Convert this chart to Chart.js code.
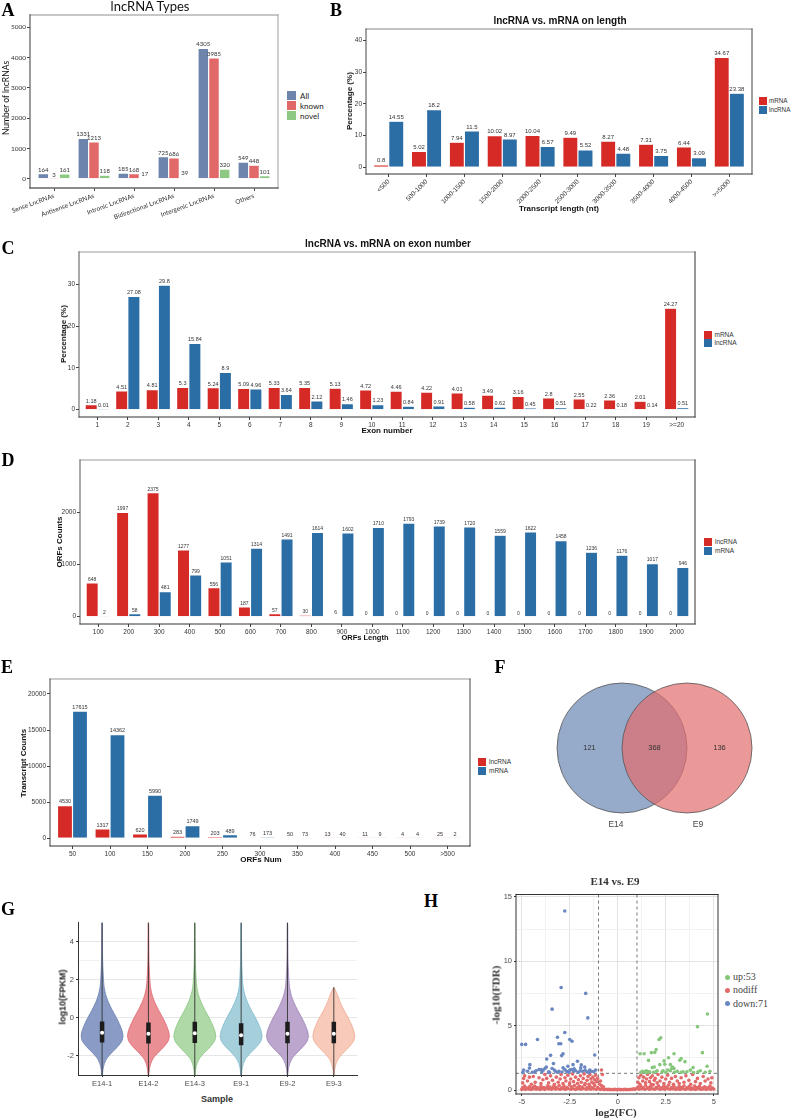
<!DOCTYPE html>
<html>
<head>
<meta charset="utf-8">
<script src="https://cdn.jsdelivr.net/npm/chart.js@4.4.1/dist/chart.umd.min.js"></script>
<style>
  body { margin: 0; background: #fff; }
  #page { position: relative; width: 791px; height: 1118px; overflow: hidden; }
  .box { position: absolute; }
  .txt { position: absolute; white-space: nowrap; line-height: 1; }
  .sw { position: absolute; }
</style>
</head>
<body>
<div id="page"></div>
<script>
// ---------- A: lncRNA types ----------
const typeCats = ['Sense LncRNAs', 'Antisense LncRNAs', 'Intronic LncRNAs', 'Bidirectional LncRNAs', 'Intergenic LncRNAs', 'Others'];
const typeAll = [164, 1331, 185, 725, 4305, 549];
const typeKnown = [3, 1213, 168, 686, 3985, 448];
const typeNovel = [161, 118, 17, 39, 320, 101];
const typeTicks = [0, 1000, 2000, 3000, 4000, 5000];

// ---------- B: transcript length ----------
const lengthCats = ['<500', '500-1000', '1000-1500', '1500-2000', '2000-2500', '2500-3000', '3000-3500', '3500-4000', '4000-4500', '>=5000'];
const lengthMrna = [0.8, 5.02, 7.94, 10.02, 10.04, 9.49, 8.27, 7.31, 6.44, 34.67];
const lengthLnc = [14.55, 18.2, 11.5, 8.97, 6.57, 5.52, 4.48, 3.75, 3.09, 23.38];
const lengthTicks = [0, 10, 20, 30, 40];

// ---------- C: exon number ----------
const exonCats = ['1', '2', '3', '4', '5', '6', '7', '8', '9', '10', '11', '12', '13', '14', '15', '16', '17', '18', '19', '>=20'];
const exonMrna = [1.18, 4.51, 4.81, 5.3, 5.24, 5.09, 5.33, 5.35, 5.13, 4.72, 4.46, 4.22, 4.01, 3.49, 3.16, 2.8, 2.55, 2.36, 2.01, 24.27];
const exonLnc = [0.01, 27.08, 29.8, 15.84, 8.9, 4.96, 3.64, 2.12, 1.46, 1.23, 0.84, 0.91, 0.58, 0.62, 0.45, 0.51, 0.22, 0.18, 0.14, 0.51];
const exonTicks = [0, 10, 20, 30];

// ---------- D: ORF length ----------
const orfLenCats = ['100', '200', '300', '400', '500', '600', '700', '800', '900', '1000', '1100', '1200', '1300', '1400', '1500', '1600', '1700', '1800', '1900', '2000'];
const orfLenLnc = [648, 1997, 2375, 1277, 556, 187, 57, 30, 6, 0, 0, 0, 0, 0, 0, 0, 0, 0, 0, 0];
const orfLenMrna = [2, 58, 481, 799, 1051, 1314, 1491, 1614, 1602, 1710, 1793, 1739, 1720, 1559, 1622, 1458, 1236, 1176, 1017, 946];
const orfLenTicks = [0, 1000, 2000];

// ---------- E: ORF number ----------
const orfNumCats = ['50', '100', '150', '200', '250', '300', '350', '400', '450', '500', '>500'];
const orfNumLnc = [4530, 1317, 620, 283, 203, 76, 50, 13, 11, 4, 25];
const orfNumMrna = [17615, 14362, 5990, 1749, 489, 173, 73, 40, 9, 4, 2];
const orfNumTicks = [0, 5000, 10000, 15000, 20000];

// ---------- F: venn ----------
const vennSets = ['E14', 'E9'];
const vennCounts = [121, 368, 136];

// ---------- G: violin ----------
const sampleNames = ['E14-1', 'E14-2', 'E14-3', 'E9-1', 'E9-2', 'E9-3'];
const densityY = [-3, -2.7, -2.4, -2.1, -1.8, -1.5, -1.2, -0.9, -0.6, -0.3, 0, 0.4, 0.8, 1.2, 1.6, 2, 3, 4];
const densityW = [0.008, 0.02, 0.05, 0.11, 0.22, 0.34, 0.43, 0.45, 0.42, 0.37, 0.31, 0.22, 0.14, 0.08, 0.045, 0.03, 0.012, 0.008];
const violinTop = [5, 5, 5, 5, 5, 1.6];
const boxQ1 = [-1.3, -1.35, -1.32, -1.44, -1.33, -1.33];
const boxQ3 = [-0.19, -0.24, -0.2, -0.29, -0.2, -0.2];
const boxMed = [-0.79, -0.84, -0.81, -0.92, -0.84, -0.84];
const fpkmTicks = [-2, -1, 0, 1, 2, 3, 4];

// ---------- H: volcano ----------
const downPoints = [[-2.76,13.9],[-2.95,7.95],[-1.67,7.5],[-3.42,6.28],[-1.56,5.6],[-2.76,4.46],[-3.14,4.1],[-3.07,3.59],[-2.97,3.59],
  [-2.5,3.92],[-2.38,3.79],[-4.18,3.92],[-5,3.54],[-4.8,3.54],[-2.85,2.82],[-2.92,2.67],[-3.5,2.69],[-1.2,2.72],[-2.1,2.23],
  [-4.58,1.97],[-2.33,1.97],[-4.9,1.54],[-4.1,1.59],[-3.98,1.59],[-3.72,1.79],[-3.78,1.69],[-3.89,1.54],[-3.42,1.67],[-3.6,1.41],
  [-2.85,1.72],[-2.76,1.59],[-2.67,1.46],[-2.5,1.54],[-2.41,1.59],[-2.27,1.64],[-2.19,1.49],[-1.93,1.72],[-1.84,1.46],[-1.7,1.54],
  [-1.46,1.54],[-1.37,1.46],[-1.72,1.79],[-3.25,1.46],[-3.06,1.46],[-4.32,1.41],[-4.95,1.35],[-4.7,1.45],[-4.45,1.38],[-4.25,1.5],
  [-3.95,1.42],[-3.55,1.36],[-3.3,1.55],[-3.15,1.38],[-2.9,1.4],[-2.55,1.37],[-2.3,1.45],[-2.05,1.38],[-1.95,1.5],[-1.6,1.4],
  [-1.5,1.36],[-1.25,1.42],[-1.15,1.55],[-4.6,1.7],[-3.35,2.05],[-2.6,1.85],[-1.9,1.95],[-3.7,2.4]];
const upPoints = [[4.67,5.9],[4.15,4.92],[2.24,4.05],[2.15,3.92],[4.41,2.9],[2.0,3.15],[1.93,2.92],[1.75,2.9],[1.16,2.82],
  [1.37,2.82],[2.93,2.82],[2.64,2.51],[3.3,2.44],[3.23,2.31],[2.41,2.26],[2.19,1.97],[2.74,1.97],[2.85,1.79],[2.8,1.67],
  [2.93,1.67],[2.74,1.49],[1.8,1.74],[1.9,1.79],[1.49,1.49],[1.41,1.41],[1.58,1.41],[3.92,1.74],[3.78,1.54],[4.65,1.85],
  [4.18,1.41],[2.36,1.49],[2.01,1.46],[3.4,1.41],[1.2,1.38],[1.3,1.45],[1.5,1.36],[1.65,1.42],[1.85,1.38],[2.05,1.5],
  [2.3,1.4],[2.5,1.36],[2.6,1.55],[2.95,1.38],[3.1,1.45],[3.3,1.37],[3.6,1.42],[3.95,1.36],[4.3,1.5],[4.55,1.38],[4.8,1.45],
  [2.45,2.0],[3.5,2.2],[1.6,2.3]];
const nodiffPoints = [
  [-5,0.05],[-4.95,0.2],[-4.9,0.1],[-4.85,0.3],[-4.8,0.05],[-4.72,0.15],[-4.65,0.08],[-4.6,0.25],[-4.52,0.04],[-4.45,0.18],
  [-4.4,0.1],[-4.33,0.3],[-4.25,0.06],[-4.2,0.2],[-4.12,0.12],[-4.05,0.04],[-4,0.28],[-3.92,0.1],[-3.85,0.2],[-3.8,0.05],
  [-3.72,0.15],[-3.65,0.32],[-3.6,0.08],[-3.52,0.22],[-3.45,0.05],[-3.4,0.14],[-3.33,0.3],[-3.25,0.07],[-3.2,0.2],[-3.12,0.1],
  [-3.05,0.35],[-3,0.05],[-2.92,0.18],[-2.85,0.1],[-2.8,0.3],[-2.72,0.05],[-2.65,0.2],[-2.6,0.12],[-2.52,0.4],[-2.45,0.06],
  [-2.4,0.25],[-2.32,0.1],[-2.25,0.35],[-2.2,0.04],[-2.12,0.18],[-2.05,0.1],[-2,0.3],[-1.92,0.06],[-1.85,0.22],[-1.8,0.12],
  [-1.72,0.4],[-1.65,0.05],[-1.6,0.2],[-1.52,0.1],[-1.45,0.3],[-1.4,0.06],[-1.32,0.18],[-1.25,0.1],[-1.2,0.35],[-1.12,0.05],
  [-1.05,0.2],[-0.98,0.1],[-0.9,0.04],[-0.82,0.12],[-0.75,0.05],[-0.68,0.03],[-0.6,0.06],[-0.52,0.03],[-0.45,0.05],[-0.38,0.02],
  [-0.3,0.04],[-0.22,0.03],[-0.15,0.05],[-0.08,0.02],[0,0.03],[0.08,0.05],[0.15,0.02],[0.22,0.04],[0.3,0.03],[0.38,0.05],
  [0.45,0.02],[0.52,0.04],[0.6,0.03],[0.68,0.06],[0.75,0.04],[0.82,0.1],[0.9,0.05],[0.98,0.12],
  [1.05,0.22],[1.12,0.06],[1.2,0.3],[1.25,0.1],[1.32,0.18],[1.4,0.05],[1.45,0.35],[1.52,0.12],[1.6,0.2],[1.65,0.05],
  [1.72,0.28],[1.8,0.1],[1.85,0.4],[1.92,0.06],[2,0.2],[2.05,0.12],[2.12,0.32],[2.2,0.05],[2.25,0.18],[2.32,0.1],
  [2.4,0.3],[2.45,0.05],[2.52,0.22],[2.6,0.12],[2.65,0.38],[2.72,0.06],[2.8,0.2],[2.85,0.1],[2.92,0.3],[3,0.05],
  [3.05,0.16],[3.12,0.08],[3.2,0.28],[3.25,0.04],[3.32,0.2],[3.4,0.1],[3.45,0.33],[3.52,0.05],[3.6,0.18],[3.65,0.1],
  [3.72,0.26],[3.8,0.05],[3.85,0.15],[3.92,0.08],[4,0.3],[4.05,0.04],[4.12,0.2],[4.2,0.1],[4.25,0.28],[4.33,0.05],
  [4.4,0.16],[4.45,0.08],[4.52,0.25],[4.6,0.04],[4.65,0.18],[4.72,0.1],[4.8,0.3],[4.85,0.05],[4.92,0.15],[5,0.08],
  [-4.95,0.55],[-4.9,0.9],[-4.85,1.1],[-4.7,0.7],[-4.6,1.0],[-4.5,0.45],[-4.4,1.05],[-4.3,0.6],[-4.1,0.95],[-4.0,0.5],
  [-3.9,0.8],[-3.8,1.2],[-3.7,0.9],[-3.6,0.55],[-3.5,1.1],[-3.4,0.75],[-3.3,0.45],[-3.2,1.0],[-3.1,0.6],[-3.0,0.85],
  [-2.95,1.2],[-2.85,0.5],[-2.75,0.95],[-2.7,0.7],[-2.6,1.15],[-2.5,0.55],[-2.45,0.85],[-2.35,1.25],[-2.3,0.65],[-2.2,1.0],
  [-2.1,0.5],[-2.05,0.8],[-1.95,1.1],[-1.9,0.6],[-1.8,0.9],[-1.75,1.25],[-1.7,0.5],[-1.6,0.75],[-1.55,1.05],[-1.5,0.45],
  [-1.45,1.2],[-1.4,0.85],[-1.35,0.6],[-1.3,1.0],[-1.25,0.5],[-1.2,0.8],[-1.15,1.15],[-1.1,0.65],[-1.05,0.9],[-0.95,0.45],
  [-0.9,0.7],[-0.85,1.55],[-0.8,1.2],[-0.85,0.35],[-0.75,0.25],
  [1.05,0.6],[1.1,0.95],[1.15,0.45],[1.2,1.15],[1.3,0.7],[1.35,1.0],[1.45,0.55],[1.5,0.85],[1.55,1.2],[1.65,0.65],
  [1.7,0.95],[1.75,0.45],[1.8,1.1],[1.9,0.75],[1.95,0.9],[2.05,0.55],[2.1,1.2],[2.2,0.7],[2.3,1.0],[2.4,0.5],
  [2.5,0.85],[2.6,1.15],[2.7,0.6],[2.8,0.9],[2.9,0.45],[3.0,1.05],[3.1,0.7],[3.2,0.5],[3.3,0.95],[3.45,0.6],
  [3.55,1.1],[3.7,0.75],[3.8,0.45],[3.9,1.2],[4.05,0.65],[4.15,0.9],[4.3,0.5],[4.45,1.05],[4.55,0.7],[4.7,0.85],
  [4.85,0.55],[4.9,0.95]];
const fcTicks = [-5, -3.75, -2.5, -1.25, 0, 1.25, 2.5, 3.75, 5];
const fdrTicks = [0, 2.5, 5, 7.5, 10, 12.5, 15];
const fcCut = 1;
const fdrCut = 1.3;

// ---------- helpers ----------
const page = document.getElementById('page');
const SANS = "'Liberation Sans', Arial, sans-serif";
const SERIF = "'Liberation Serif', 'Times New Roman', serif";
const LATO = "Lato, 'Liberation Sans', sans-serif";
const RED = '#d62a26';
const BLUE = '#2b6ea6';
Chart.defaults.font.family = SANS;
Chart.defaults.color = '#333';

function addText(str, x, y, o = {}) {
  const d = document.createElement('div');
  d.className = 'txt';
  d.textContent = str;
  const ax = o.anchor === 'left' ? '0' : '-50%';
  d.style.cssText = `left:${x}px;top:${y}px;font-size:${o.size || 8}px;font-weight:${o.bold ? 'bold' : 'normal'};` +
    `font-family:${o.family || SANS};color:${o.color || '#111'};transform:translate(${ax},-50%) rotate(${o.rot || 0}deg);`;
  page.appendChild(d);
}

function addLegend(x, y, items, o) {
  items.forEach((it, k) => {
    const top = y + k * o.step;
    const sw = document.createElement('div');
    sw.className = 'sw';
    sw.style.cssText = `left:${x}px;top:${top}px;width:${o.sw}px;height:${o.sw}px;background:${it.color};` +
      (o.round ? 'border-radius:50%;' : '');
    page.appendChild(sw);
    addText(it.label, x + o.sw + o.gap, top + o.sw / 2, {size: o.size, family: o.family, color: o.color || '#333', anchor: 'left'});
  });
}

// canvas placed so that the chart area lands on the plot frame
function makeCanvas(frame, gut) {
  const box = document.createElement('div');
  box.className = 'box';
  box.style.left = (frame.l - gut.l) + 'px';
  box.style.top = (frame.t - gut.t) + 'px';
  box.style.width = (frame.r - frame.l + gut.l + gut.r) + 'px';
  box.style.height = (frame.b - frame.t + gut.t + gut.b) + 'px';
  const cv = document.createElement('canvas');
  box.appendChild(cv);
  page.appendChild(box);
  return cv;
}

function framePlugin(colors, width) {
  return {
    id: 'frame',
    afterDatasetsDraw(chart) {
      const {ctx, chartArea: a} = chart;
      const sides = [
        [colors.top, a.left, a.top, a.right, a.top],
        [colors.right, a.right, a.top, a.right, a.bottom],
        [colors.bottom, a.left, a.bottom, a.right, a.bottom],
        [colors.left, a.left, a.top, a.left, a.bottom]
      ];
      ctx.save();
      ctx.lineWidth = width;
      ctx.lineCap = 'square';
      sides.forEach(([c, x1, y1, x2, y2]) => {
        if (!c) return;
        ctx.strokeStyle = c;
        ctx.beginPath();
        ctx.moveTo(x1, y1);
        ctx.lineTo(x2, y2);
        ctx.stroke();
      });
      ctx.restore();
    }
  };
}

function valueLabelPlugin(size, family) {
  return {
    id: 'valueLabels',
    afterDatasetsDraw(chart) {
      const ctx = chart.ctx;
      ctx.save();
      ctx.font = `${size}px ${family}`;
      ctx.fillStyle = '#333';
      ctx.textAlign = 'center';
      ctx.textBaseline = 'bottom';
      chart.data.datasets.forEach((ds, i) => {
        chart.getDatasetMeta(i).data.forEach((bar, j) => {
          ctx.fillText(String(ds.data[j].y), bar.x, bar.y - 1);
        });
      });
      ctx.restore();
    }
  };
}

// grouped bar panel on a linear x axis (categories at 1..n, ggplot-like 0.6 expansion)
function groupedBars(o) {
  const cv = makeCanvas(o.frame, o.gut);
  const n = o.cats.length;
  return new Chart(cv, {
    type: 'bar',
    data: {
      datasets: o.series.map(s => ({
        label: s.name,
        data: s.values.map((v, i) => ({x: i + 1, y: v})),
        backgroundColor: s.color,
        borderColor: 'rgba(255,255,255,0.6)',
        borderWidth: 0.6,
        categoryPercentage: 0.8,
        barPercentage: 1
      }))
    },
    options: {
      animation: false, responsive: true, maintainAspectRatio: false, events: [],
      layout: {padding: {top: o.gut.t, right: o.gut.r, left: 0, bottom: 0}},
      plugins: {legend: {display: false}, tooltip: {enabled: false}},
      scales: {
        x: {
          type: 'linear', min: 0.4, max: n + 0.6, offset: false,
          afterFit: s => { s.height = o.gut.b; },
          afterBuildTicks: s => { s.ticks = o.cats.map((c, i) => ({value: i + 1})); },
          grid: {offset: false, drawOnChartArea: false, tickLength: 3, color: '#444'},
          border: {display: false},
          ticks: {autoSkip: false, minRotation: o.rot || 0, maxRotation: o.rot || 0, padding: 1, color: '#333',
                  font: {size: o.tickSize, family: o.family}, callback: v => o.cats[v - 1]}
        },
        y: {
          min: o.yMin, max: o.yMax,
          afterFit: s => { s.width = o.gut.l; },
          afterBuildTicks: s => { s.ticks = o.yTicks.map(v => ({value: v})); },
          grid: {drawOnChartArea: false, tickLength: 3, color: '#444'},
          border: {display: false},
          ticks: {padding: 1, color: '#333', font: {size: o.tickSize, family: o.family}, callback: v => String(v)}
        }
      }
    },
    plugins: [valueLabelPlugin(o.labelSize, o.family), framePlugin(o.frameColors, o.frameWidth || 1)]
  });
}

// ---------- A ----------
groupedBars({
  frame: {l: 30, t: 15, r: 278, b: 188}, gut: {l: 30, t: 6, r: 6, b: 32},
  cats: typeCats, rot: 20, family: LATO, tickSize: 6.5, labelSize: 6,
  yMin: -306, yMax: 5404, yTicks: typeTicks,
  series: [
    {name: 'All', values: typeAll, color: '#6d84ac'},
    {name: 'known', values: typeKnown, color: '#e06868'},
    {name: 'novel', values: typeNovel, color: '#8dc983'}
  ],
  frameColors: {top: '#b5b5b5', right: '#b5b5b5', bottom: '#666', left: '#666'}, frameWidth: 1.3
});
addText('A', 8, 10, {size: 18, bold: true, family: SERIF, color: '#000'});
addText('lncRNA Types', 150, 6, {size: 13, family: LATO, color: '#111'});
addText('Number of lncRNAs', 6, 98, {size: 8.5, family: LATO, rot: -90});
addLegend(287, 91, [{label: 'All', color: '#6d84ac'}, {label: 'known', color: '#e06868'}, {label: 'novel', color: '#8dc983'}],
  {sw: 9, step: 10, gap: 4, size: 8, family: LATO, color: '#222'});

// ---------- B ----------
groupedBars({
  frame: {l: 366, t: 29, r: 752, b: 174}, gut: {l: 20, t: 6, r: 6, b: 36},
  cats: lengthCats, rot: 45, family: SANS, tickSize: 6.5, labelSize: 6,
  yMin: -2.1, yMax: 43.6, yTicks: lengthTicks,
  series: [{name: 'mRNA', values: lengthMrna, color: RED}, {name: 'lncRNA', values: lengthLnc, color: BLUE}],
  frameColors: {top: '#888', right: '#444', bottom: '#333', left: '#444'}
});
addText('B', 336, 10, {size: 18, bold: true, family: SERIF, color: '#000'});
addText('lncRNA vs. mRNA on length', 560, 21, {size: 10, bold: true});
addText('Percentage (%)', 350, 101, {size: 8, bold: true, rot: -90});
addText('Transcript length (nt)', 559, 209, {size: 8, bold: true});
addLegend(759, 97, [{label: 'mRNA', color: RED}, {label: 'lncRNA', color: BLUE}], {sw: 7.5, step: 9, gap: 2.5, size: 6.3});

// ---------- C ----------
groupedBars({
  frame: {l: 79, t: 252, r: 695, b: 417}, gut: {l: 22, t: 6, r: 6, b: 14},
  cats: exonCats, family: SANS, tickSize: 6.5, labelSize: 5.5,
  yMin: -1.75, yMax: 37.7, yTicks: exonTicks,
  series: [{name: 'mRNA', values: exonMrna, color: RED}, {name: 'lncRNA', values: exonLnc, color: BLUE}],
  frameColors: {top: '#999', right: '#333', bottom: '#333', left: '#555'}
});
addText('C', 8, 248, {size: 18, bold: true, family: SERIF, color: '#000'});
addText('lncRNA vs. mRNA on exon number', 388, 244, {size: 10, bold: true});
addText('Percentage (%)', 64, 334, {size: 8, bold: true, rot: -90});
addText('Exon number', 387, 431, {size: 8, bold: true});
addLegend(704, 331, [{label: 'mRNA', color: RED}, {label: 'lncRNA', color: BLUE}], {sw: 7.5, step: 8.3, gap: 3, size: 6.5});

// ---------- D ----------
groupedBars({
  frame: {l: 80, t: 460, r: 695, b: 624}, gut: {l: 28, t: 6, r: 6, b: 14},
  cats: orfLenCats, family: SANS, tickSize: 6.5, labelSize: 5,
  yMin: -140, yMax: 3000, yTicks: orfLenTicks,
  series: [{name: 'lncRNA', values: orfLenLnc, color: RED}, {name: 'mRNA', values: orfLenMrna, color: BLUE}],
  frameColors: {top: '#999', right: '#333', bottom: '#333', left: '#555'}
});
addText('D', 8, 460, {size: 18, bold: true, family: SERIF, color: '#000'});
addText('ORFs Counts', 60, 542, {size: 8, bold: true, rot: -90});
addText('ORFs Length', 365, 638, {size: 7.5, bold: true});
addLegend(704, 538, [{label: 'lncRNA', color: RED}, {label: 'mRNA', color: BLUE}], {sw: 8, step: 8.5, gap: 3, size: 6.5});

// ---------- E ----------
groupedBars({
  frame: {l: 50, t: 679, r: 470, b: 846}, gut: {l: 30, t: 6, r: 6, b: 14},
  cats: orfNumCats, family: SANS, tickSize: 6.5, labelSize: 5.5,
  yMin: -1066, yMax: 22064, yTicks: orfNumTicks,
  series: [{name: 'lncRNA', values: orfNumLnc, color: RED}, {name: 'mRNA', values: orfNumMrna, color: BLUE}],
  frameColors: {top: '#999', right: '#444', bottom: '#333', left: '#444'}
});
addText('E', 7, 667, {size: 18, bold: true, family: SERIF, color: '#000'});
addText('Transcript Counts', 23.5, 763, {size: 8, bold: true, rot: -90});
addText('ORFs Num', 261, 860, {size: 8, bold: true});
addLegend(478, 758, [{label: 'lncRNA', color: RED}, {label: 'mRNA', color: BLUE}], {sw: 8, step: 8.5, gap: 3, size: 6.5});

// ---------- F: venn ----------
const vennFrame = {l: 550, t: 680, r: 760, b: 816};
const vennX = {min: -1.108, max: 2.123};
// circle radius = one unit of the x scale, so each circle passes through the other's centre
const vennUnitPx = (vennFrame.r - vennFrame.l) / (vennX.max - vennX.min);
// bubble charts pad the chart area by the bubble overflow, so give the canvas that margin
const vennPad = Math.ceil(vennUnitPx + 4);
const vennLabels = {
  id: 'vennLabels',
  afterDatasetsDraw(chart) {
    const {ctx, scales: {x, y}} = chart;
    // left-only, shared, right-only spots relative to circle centres at 0 and 1
    const spots = [-0.5, 0.5, 1.5];
    ctx.save();
    ctx.font = `7.5px ${SANS}`;
    ctx.fillStyle = '#333';
    ctx.textAlign = 'center';
    ctx.textBaseline = 'middle';
    vennCounts.forEach((c, k) => ctx.fillText(String(c), x.getPixelForValue(spots[k]), y.getPixelForValue(0)));
    ctx.restore();
  }
};
new Chart(makeCanvas(vennFrame, {l: vennPad, t: vennPad, r: vennPad, b: vennPad}), {
  type: 'bubble',
  data: {
    datasets: [
      {label: vennSets[0], data: [{x: 0, y: 0}], backgroundColor: 'rgb(150,170,201)', borderColor: '#555',
       borderWidth: 0.8, radius: vennUnitPx, clip: false, order: 2},
      {label: vennSets[1], data: [{x: 1, y: 0}], backgroundColor: 'rgba(226,108,110,0.7)', borderColor: '#555',
       borderWidth: 0.8, radius: vennUnitPx, clip: false, order: 1}
    ]
  },
  options: {
    animation: false, responsive: true, maintainAspectRatio: false, events: [],
    layout: {padding: vennPad},
    plugins: {legend: {display: false}, tooltip: {enabled: false}},
    scales: {x: {display: false, min: vennX.min, max: vennX.max}, y: {display: false, min: -1, max: 1}}
  },
  plugins: [vennLabels]
});
addText('F', 500, 667, {size: 18, bold: true, family: SERIF, color: '#000'});
addText(vennSets[0], 616, 824, {size: 8.5, color: '#444'});
addText(vennSets[1], 698, 824, {size: 8.5, color: '#444'});

// ---------- G: violins ----------
const violinFill = ['#8a9cc5', '#ea8f94', '#afd9a6', '#a5cfdb', '#bca6cd', '#f8cab9'];
const violinLine = ['#6d82b3', '#e06a72', '#8cc683', '#80bdd0', '#9e86ba', '#f0ab93'];
const gSets = [];
sampleNames.forEach((name, i) => {
  const pos = i + 1;
  const keep = densityY.map((v, k) => k).filter(k => densityY[k] < violinTop[i]);
  const ys = keep.map(k => densityY[k]).concat([violinTop[i]]);
  const ws = keep.map(k => densityW[k]).concat([0.004]);
  const right = ys.map((y, k) => ({x: pos + ws[k], y}));
  const left = ys.map((y, k) => ({x: pos - ws[k], y})).reverse();
  gSets.push({label: name, data: right.concat(left), showLine: true, fill: 'shape', tension: 0.3,
    backgroundColor: violinFill[i], borderColor: violinLine[i], borderWidth: 0.8, pointRadius: 0, order: 4});
  gSets.push({data: [{x: pos, y: -3}, {x: pos, y: violinTop[i]}], showLine: true, borderColor: '#333',
    borderWidth: 0.9, pointRadius: 0, order: 3});
  gSets.push({data: [{x: pos, y: boxQ1[i]}, {x: pos, y: boxQ3[i]}], showLine: true, borderColor: '#1c1c1c',
    borderWidth: 4.5, borderCapStyle: 'butt', pointRadius: 0, order: 2});
  gSets.push({data: [{x: pos, y: boxMed[i]}], pointRadius: 2, pointBackgroundColor: '#fff', pointBorderWidth: 0, order: 1});
});
const gGut = {l: 18, t: 4, r: 4, b: 16};
new Chart(makeCanvas({l: 78, t: 920, r: 357, b: 1075}, gGut), {
  type: 'scatter',
  data: {datasets: gSets},
  options: {
    animation: false, responsive: true, maintainAspectRatio: false, events: [],
    layout: {padding: {top: gGut.t, right: gGut.r, left: 0, bottom: 0}},
    plugins: {legend: {display: false}, tooltip: {enabled: false}},
    scales: {
      x: {
        type: 'linear', min: 0.48, max: 6.5,
        afterFit: s => { s.height = gGut.b; },
        afterBuildTicks: s => { s.ticks = sampleNames.map((n, i) => ({value: i + 1})); },
        grid: {drawOnChartArea: false, tickLength: 2, color: '#333'},
        border: {display: true, color: '#333', width: 1},
        ticks: {autoSkip: false, maxRotation: 0, padding: 2, color: '#4d4d4d', font: {size: 7.5}, callback: v => sampleNames[v - 1]}
      },
      y: {
        min: -3, max: 5,
        afterFit: s => { s.width = gGut.l; },
        afterBuildTicks: s => { s.ticks = fpkmTicks.map(v => ({value: v})); },
        grid: {
          color: c => (c.tick && c.tick.value % 2 === 0 ? '#e6e6e6' : '#f1f1f1'),
          tickColor: c => (c.tick && c.tick.value % 2 === 0 ? '#333' : 'rgba(0,0,0,0)'),
          tickLength: 2
        },
        border: {display: true, color: '#333', width: 1},
        ticks: {padding: 2, color: '#4d4d4d', font: {size: 7.5}, callback: v => (v % 2 === 0 ? String(v) : '')}
      }
    }
  }
});
addText('G', 8, 909, {size: 18, bold: true, family: SERIF, color: '#000'});
addText('log10(FPKM)', 63, 997, {size: 9, bold: true, rot: -90, color: '#222'});
addText('Sample', 217, 1099, {size: 9, bold: true, color: '#333'});

// ---------- H: volcano ----------
const thresholdLines = {
  id: 'thresholdLines',
  beforeDatasetsDraw(chart) {
    const {ctx, chartArea: a, scales: {x, y}} = chart;
    ctx.save();
    ctx.setLineDash([3, 3]);
    ctx.strokeStyle = '#555';
    ctx.lineWidth = 0.8;
    [-fcCut, fcCut].forEach(v => {
      const px = x.getPixelForValue(v);
      ctx.beginPath(); ctx.moveTo(px, a.top); ctx.lineTo(px, a.bottom); ctx.stroke();
    });
    const py = y.getPixelForValue(fdrCut);
    ctx.beginPath(); ctx.moveTo(a.left, py); ctx.lineTo(a.right, py); ctx.stroke();
    ctx.restore();
  }
};
const isMajorFc = v => Number.isInteger(v / 2.5);
const isMajorFdr = v => Number.isInteger(v / 5);
const hGut = {l: 20, t: 4, r: 4, b: 14};
const ptStyle = (color, order) => ({pointRadius: 1.8, pointBackgroundColor: color, backgroundColor: color, pointBorderWidth: 0, order});
new Chart(makeCanvas({l: 516, t: 892, r: 718, b: 1094}, hGut), {
  type: 'scatter',
  data: {
    datasets: [
      Object.assign({label: 'nodiff', data: nodiffPoints.map(([x, y]) => ({x, y}))}, ptStyle('#e26a6a', 2)),
      Object.assign({label: 'up:53', data: upPoints.map(([x, y]) => ({x, y}))}, ptStyle('#86c77c', 1)),
      Object.assign({label: 'down:71', data: downPoints.map(([x, y]) => ({x, y}))}, ptStyle('#6a87c1', 1))
    ]
  },
  options: {
    animation: false, responsive: true, maintainAspectRatio: false, events: [],
    layout: {padding: {top: hGut.t, right: hGut.r, left: 0, bottom: 0}},
    plugins: {legend: {display: false}, tooltip: {enabled: false}},
    scales: {
      x: {
        type: 'linear', min: -5.3, max: 5.22,
        afterFit: s => { s.height = hGut.b; },
        afterBuildTicks: s => { s.ticks = fcTicks.map(v => ({value: v})); },
        grid: {
          color: c => (c.tick && isMajorFc(c.tick.value) ? '#e3e3e3' : '#f2f2f2'),
          tickColor: c => (c.tick && isMajorFc(c.tick.value) ? '#333' : 'rgba(0,0,0,0)'),
          tickLength: 2
        },
        border: {display: false},
        ticks: {autoSkip: false, maxRotation: 0, padding: 1, color: '#4d4d4d', font: {size: 7.5}, callback: v => (isMajorFc(v) ? String(v) : '')}
      },
      y: {
        min: -0.31, max: 15.18,
        afterFit: s => { s.width = hGut.l; },
        afterBuildTicks: s => { s.ticks = fdrTicks.map(v => ({value: v})); },
        grid: {
          color: c => (c.tick && isMajorFdr(c.tick.value) ? '#e3e3e3' : '#f2f2f2'),
          tickColor: c => (c.tick && isMajorFdr(c.tick.value) ? '#333' : 'rgba(0,0,0,0)'),
          tickLength: 2
        },
        border: {display: false},
        ticks: {padding: 2, color: '#4d4d4d', font: {size: 7.5}, callback: v => (isMajorFdr(v) ? String(v) : '')}
      }
    }
  },
  plugins: [thresholdLines, framePlugin({top: '#333', right: '#333', bottom: '#333', left: '#333'}, 1)]
});
addText('H', 431, 901, {size: 18, bold: true, family: SERIF, color: '#000'});
addText('E14 vs. E9', 615, 881, {size: 11, bold: true, family: SERIF, color: '#333'});
addText('log2(FC)', 616, 1112, {size: 11, bold: true, family: SERIF, color: '#333'});
addText('-log10(FDR)', 496, 995, {size: 11, bold: true, family: SERIF, rot: -90, color: '#333'});
addLegend(724.5, 974.5, [{label: 'up:53', color: '#86c77c'}, {label: 'nodiff', color: '#e26a6a'}, {label: 'down:71', color: '#6a87c1'}],
  {sw: 5, step: 13.3, gap: 3.5, size: 10, family: SERIF, color: '#444', round: true});
</script>
</body>
</html>
